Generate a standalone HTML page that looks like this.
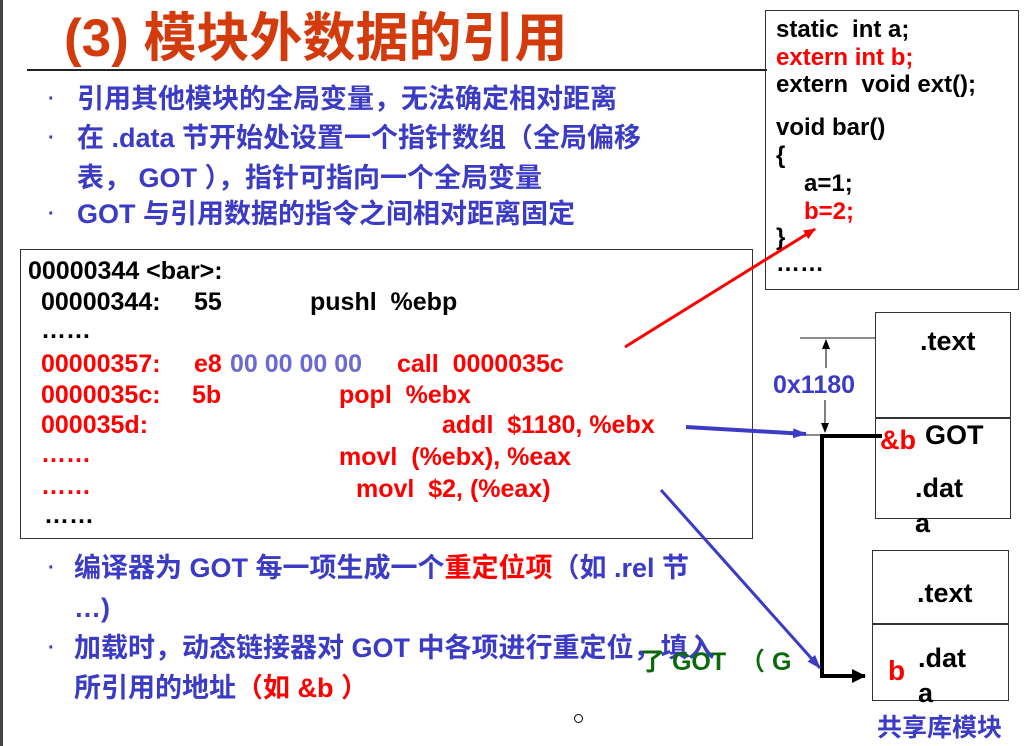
<!DOCTYPE html>
<html><head><meta charset="utf-8"><style>
body{margin:0;width:1029px;height:746px;background:#fff;position:relative;overflow:hidden;font-family:"Liberation Sans","Noto Sans CJK SC",sans-serif;font-weight:bold}
.t{position:absolute;white-space:pre;line-height:34px}
.cj{font-family:"Liberation Sans","Noto Sans CJK SC",sans-serif;font-weight:bold}
.b{color:#3b3bc6;font-size:27px}
.r{color:#f00}
.c{font-size:25px;line-height:30px}
.rc{font-size:24px;line-height:30px}
.bx{position:absolute;border:1.5px solid #333;box-sizing:border-box}
.dot{position:absolute;color:#3b3bc6;font-size:20px}
</style></head><body>
<div style="position:absolute;left:0;top:0;width:3px;height:746px;background:#444"></div>
<div class="t cj" style="left:64px;top:6px;font-size:53px;line-height:66px;color:#d33a0c">(3) 模块外数据的引用</div>
<div style="position:absolute;left:27px;top:69px;width:740px;height:2px;background:#222"></div>

<div class="dot t" style="left:48px;top:82px">·</div>
<div class="t cj b" style="left:77px;top:82px">引用其他模块的全局变量，无法确定相对距离</div>
<div class="dot t" style="left:48px;top:121px">·</div>
<div class="t cj b" style="left:77px;top:121px">在 .data 节开始处设置一个指针数组（全局偏移</div>
<div class="t cj b" style="left:77px;top:161px">表， GOT ），指针可指向一个全局变量</div>
<div class="dot t" style="left:48px;top:197px">·</div>
<div class="t cj b" style="left:77px;top:197px">GOT 与引用数据的指令之间相对距离固定</div>

<div class="bx" style="left:765px;top:10px;width:254px;height:280px"></div>
<div class="t rc" style="left:776px;top:15px">static  int a;</div>
<div class="t rc r" style="left:776px;top:43px">extern int b;</div>
<div class="t rc" style="left:776px;top:70px">extern  void ext();</div>
<div class="t rc" style="left:776px;top:113px">void bar()</div>
<div class="t rc" style="left:776px;top:141px">{</div>
<div class="t rc" style="left:804px;top:169px">a=1;</div>
<div class="t rc r" style="left:804px;top:197px">b=2;</div>
<div class="t rc" style="left:776px;top:223px">}</div>
<div class="t rc" style="left:776px;top:249px">……</div>

<div class="bx" style="left:20px;top:249px;width:733px;height:290px"></div>
<div class="t c" style="left:28px;top:256px">00000344 &lt;bar&gt;:</div>
<div class="t c" style="left:41px;top:287px">00000344:</div><div class="t c" style="left:194px;top:287px">55</div><div class="t c" style="left:310px;top:287px">pushl  %ebp</div>
<div class="t c" style="left:41px;top:315px">……</div>
<div class="t c r" style="left:41px;top:349px">00000357:</div><div class="t c r" style="left:194px;top:349px">e8</div><div class="t c" style="left:230px;top:349px;color:#6a6ad4">00 00 00 00</div><div class="t c r" style="left:397px;top:349px">call  0000035c</div>
<div class="t c r" style="left:41px;top:380px">0000035c:</div><div class="t c r" style="left:192px;top:380px">5b</div><div class="t c r" style="left:339px;top:380px">popl  %ebx</div>
<div class="t c r" style="left:41px;top:410px">000035d:</div><div class="t c r" style="left:442px;top:410px">addl  $1180, %ebx</div>
<div class="t c r" style="left:41px;top:439px">……</div><div class="t c r" style="left:339px;top:442px">movl  (%ebx), %eax</div>
<div class="t c r" style="left:41px;top:471px">……</div><div class="t c r" style="left:356px;top:474px">movl  $2, (%eax)</div>
<div class="t c" style="left:44px;top:500px">……</div>

<div class="dot t" style="left:48px;top:551px">·</div>
<div class="t cj b" style="left:74px;top:551px">编译器为 GOT 每一项生成一个<span class="r">重定位项</span>（如 .rel 节</div>
<div class="t cj b" style="left:74px;top:591px">…)</div>
<div class="dot t" style="left:48px;top:631px">·</div>
<div class="t cj b" style="left:74px;top:631px">加载时，动态链接器对 GOT 中各项进行重定位，填入</div>
<div class="t cj b" style="left:74px;top:671px">所引用的地址<span class="r">（如 &amp;b ）</span></div>
<div class="t cj" style="left:640px;top:645px;font-size:25px;color:#0a6a0a">了 GOT  （ G</div>
<div style="position:absolute;left:574px;top:714px;width:7px;height:7px;border:1.5px solid #000;border-radius:50%"></div>

<div class="bx" style="left:875px;top:312px;width:136px;height:207px"></div>
<div style="position:absolute;left:875px;top:417px;width:136px;height:1.5px;background:#333"></div>
<div class="t" style="left:920px;top:324px;font-size:27px">.text</div>
<div class="t" style="left:925px;top:418px;font-size:27px">GOT</div>
<div class="t r" style="left:880px;top:423px;font-size:27px">&amp;b</div>
<div class="t" style="left:915px;top:471px;font-size:27px">.dat</div>
<div class="t" style="left:915px;top:506px;font-size:27px">a</div>

<div class="bx" style="left:872px;top:550px;width:137px;height:151px"></div>
<div style="position:absolute;left:872px;top:623px;width:137px;height:1.5px;background:#333"></div>
<div class="t" style="left:917px;top:576px;font-size:27px">.text</div>
<div class="t" style="left:918px;top:641px;font-size:27px">.dat</div>
<div class="t" style="left:918px;top:676px;font-size:27px">a</div>
<div class="t r" style="left:888px;top:654px;font-size:28px">b</div>
<div class="t cj" style="left:877px;top:711px;font-size:25px;color:#3b3bc6">共享库模块</div>
<div class="t" style="left:773px;top:368px;font-size:25px;color:#3b3bc6">0x1180</div>

<svg width="1029" height="746" style="position:absolute;left:0;top:0">
<defs>
<marker id="a" markerWidth="10" markerHeight="8" refX="9" refY="4" orient="auto" markerUnits="userSpaceOnUse"><path d="M0,0L10,4L0,8z" fill="#000"/></marker>
<marker id="bl" markerWidth="14" markerHeight="10" refX="13" refY="5" orient="auto" markerUnits="userSpaceOnUse"><path d="M0,0L14,5L0,10z" fill="#3b3bc6"/></marker>
<marker id="rd" markerWidth="12" markerHeight="10" refX="11" refY="5" orient="auto" markerUnits="userSpaceOnUse"><path d="M0,0L12,5L0,10z" fill="#f00"/></marker>
<marker id="k" markerWidth="14" markerHeight="14" refX="13" refY="7" orient="auto" markerUnits="userSpaceOnUse"><path d="M0,0L14,7L0,14z" fill="#000"/></marker>
</defs>
<line x1="800" y1="338" x2="875" y2="338" stroke="#666" stroke-width="1.5"/>
<line x1="826" y1="368" x2="826" y2="340" stroke="#000" stroke-width="1" marker-end="url(#a)"/>
<line x1="825" y1="400" x2="825" y2="432" stroke="#000" stroke-width="1" marker-end="url(#a)"/>
<line x1="805" y1="435" x2="822" y2="435" stroke="#666" stroke-width="1.5"/>
<polyline points="882,436 822,436 822,676 865,676" fill="none" stroke="#000" stroke-width="4" marker-end="url(#k)"/>
<line x1="686" y1="427" x2="806" y2="434" stroke="#3b3bc6" stroke-width="4" marker-end="url(#bl)"/>
<line x1="661" y1="490" x2="820" y2="668" stroke="#3b3bc6" stroke-width="3" marker-end="url(#bl)"/>
<line x1="625" y1="347" x2="815" y2="229" stroke="#f00" stroke-width="3" marker-end="url(#rd)"/>
</svg>
</body></html>
